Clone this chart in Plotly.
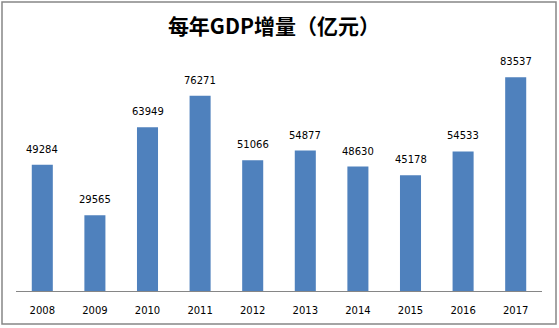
import plotly.graph_objects as go

years = ["2008", "2009", "2010", "2011", "2012", "2013", "2014", "2015", "2016", "2017"]
increments = [49284, 29565, 63949, 76271, 51066, 54877, 48630, 45178, 54533, 83537]

BAR_COLOR = "#4F81BD"
FONT = "DejaVu Sans, Verdana, sans-serif"

fig = go.Figure(
    go.Bar(
        x=years,
        y=increments,
        marker=dict(color=BAR_COLOR, line=dict(width=0)),
        hoverinfo="x+y",
    )
)

# value labels above each bar (category axis positions are indices)
for i, v in enumerate(increments):
    fig.add_annotation(
        x=i, y=v, text=str(v), showarrow=False,
        yanchor="bottom", yshift=8,
        font=dict(family=FONT, size=10, color="#000000"),
    )

fig.update_layout(
    width=559,
    height=328,
    margin=dict(l=16, r=17, t=35, b=37),
    paper_bgcolor="white",
    plot_bgcolor="white",
    bargap=0.6,
    showlegend=False,
    title=dict(
        text="<b>每年GDP增量（亿元）</b>",
        x=0.49, xanchor="center",
        y=0.918, yanchor="middle",
        font=dict(family="Noto Sans CJK SC", size=21, color="#000000"),
    ),
    xaxis=dict(
        type="category",
        range=[-0.5, len(years) - 0.5],
        showline=True, linecolor="#868686", linewidth=1,
        ticks="", showgrid=False,
        tickfont=dict(family=FONT, size=10, color="#000000"),
        ticklabelstandoff=10,
    ),
    yaxis=dict(
        range=[0, 100000], visible=False, showgrid=False,
    ),
    shapes=[
        dict(
            type="rect", xref="paper", yref="paper",
            x0=-14 / 526, x1=540 / 526,
            y0=(291 - 324) / 256, y1=(291 - 2) / 256,
            line=dict(color="#868686", width=1.5),
            fillcolor="rgba(0,0,0,0)", layer="below",
        )
    ],
)

fig.write_html("out.html")
